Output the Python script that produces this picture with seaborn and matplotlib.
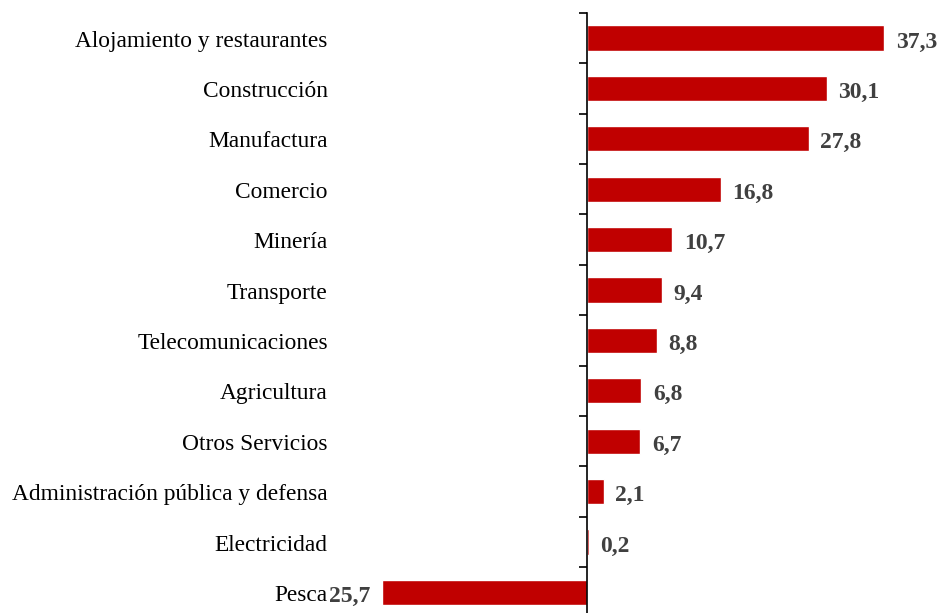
import numpy as np
import pandas as pd
import matplotlib
matplotlib.use("Agg")
import matplotlib.pyplot as plt
import seaborn as sns

# datos
sectores = ["Alojamiento y restaurantes", "Construcción", "Manufactura", "Comercio",
            "Minería", "Transporte", "Telecomunicaciones", "Agricultura",
            "Otros Servicios", "Administración pública y defensa", "Electricidad", "Pesca"]
valores = [37.3, 30.1, 27.8, 16.8, 10.7, 9.4, 8.8, 6.8, 6.7, 2.1, 0.2, -25.7]
etiquetas = ["37,3", "30,1", "27,8", "16,8", "10,7", "9,4", "8,8", "6,8", "6,7", "2,1", "0,2", "25,7"]

df = pd.DataFrame({"sector": sectores, "valor": valores})

sns.set_style("white")
plt.rcParams["font.family"] = ["Liberation Serif", "DejaVu Serif"]

fig = plt.figure(figsize=(9.4, 6.13), dpi=100)
ax = fig.add_axes([0.3564, -0.0075, 0.6436, 0.9866])

sns.barplot(data=df, x="valor", y="sector", orient="h", color="#C00000",
            saturation=1, width=0.5, ax=ax)

ax.set_xlim(-31.62, 44.29)
ax.set_ylim(len(sectores) - 0.5, -0.5)

# eje vertical en cero, marcas entre categorias
for s in ["top", "right", "bottom"]:
    ax.spines[s].set_visible(False)
ax.spines["left"].set_position(("data", 0))
ax.spines["left"].set_color("black")
ax.spines["left"].set_linewidth(1.2)
ax.set_xticks([])
ax.set_yticks(np.arange(len(sectores)))
ax.set_yticklabels([])
ax.tick_params(axis="y", which="major", left=False, length=0)
ax.set_yticks(np.arange(len(sectores) + 1) - 0.5, minor=True)
ax.tick_params(axis="y", which="minor", left=True, length=6, width=1.2,
               direction="out", color="black")
ax.set_xlabel("")
ax.set_ylabel("")

# etiquetas de categorias a la izquierda del area
for i, s in enumerate(sectores):
    ax.text(-0.012, i + 0.06, s, transform=ax.get_yaxis_transform(), ha="right",
            va="center", fontsize=16.8, color="black")

# valores
for i, (v, lab) in enumerate(zip(valores, etiquetas)):
    if v >= 0:
        ax.text(v + 1.45, i + 0.08, lab, ha="left", va="center", fontsize=17,
                fontweight="bold", color="#404040")
    else:
        ax.text(v - 1.45, i + 0.08, lab, ha="right", va="center", fontsize=17,
                fontweight="bold", color="#404040")

fig.savefig("out.png", dpi=100)
